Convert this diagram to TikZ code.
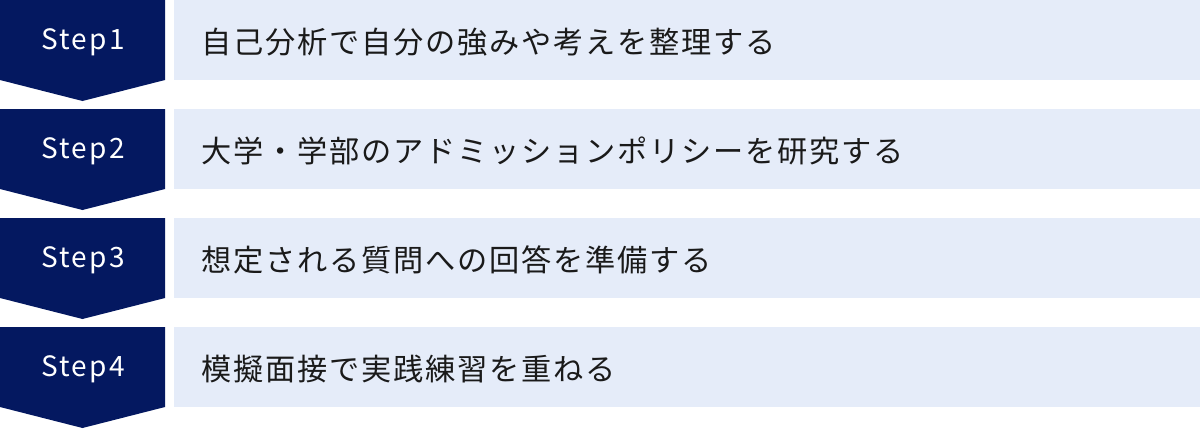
\documentclass[tikz,border=0pt]{standalone}
\usepackage{fontspec}
\setmainfont{Noto Sans CJK JP}
\newfontfamily\stepfont[LetterSpace=8]{Noto Sans CJK JP}
\newfontfamily\textjp[LetterSpace=6]{Noto Sans CJK JP}
\definecolor{navy}{RGB}{4,24,96}
\definecolor{paleblue}{RGB}{229,236,249}
\definecolor{inkgray}{RGB}{26,26,26}
\begin{document}
\begin{tikzpicture}[x=1pt, y=1pt,
  steplabel/.style={text=white, font=\stepfont\fontsize{28}{33}\selectfont, inner sep=0pt},
  stepbar/.style={fill=paleblue, draw=none},
  steptext/.style={anchor=west, text=inkgray, font=\textjp\fontsize{30.2}{36}\selectfont, inner sep=0pt}]
\useasboundingbox (0,0) rectangle (1200,-429);
%chevrons on the left
\fill [navy] (0,0) -- (165,0) -- (165,-80) -- (82.5,-101) -- (0,-80) -- cycle;
\fill [navy] (0,-109) -- (165,-109) -- (165,-189) -- (82.5,-210) -- (0,-189) -- cycle;
\fill [navy] (0,-218) -- (165,-218) -- (165,-298) -- (82.5,-319) -- (0,-298) -- cycle;
\fill [navy] (0,-327) -- (165,-327) -- (165,-407) -- (82.5,-428) -- (0,-407) -- cycle;
%bars on the right
\path [stepbar] (174,0) rectangle (1200,-80);
\path [stepbar] (174,-109) rectangle (1200,-189);
\path [stepbar] (174,-218) rectangle (1200,-298);
\path [stepbar] (174,-327) rectangle (1200,-407);
%step labels
\node [steplabel] (s1) at (83,-42.5) {Step1};
\node [steplabel] (s2) at (83,-151.5) {Step2};
\node [steplabel] (s3) at (83,-260.5) {Step3};
\node [steplabel] (s4) at (83,-369.5) {Step4};
%texts
\node [steptext] (t1) at (201,-42) {自己分析で自分の強みや考えを整理する};
\node [steptext] (t2) at (201,-151) {大学・学部のアドミッションポリシーを研究する};
\node [steptext] (t3) at (201,-260) {想定される質問への回答を準備する};
\node [steptext] (t4) at (201,-369) {模擬面接で実践練習を重ねる};
\end{tikzpicture}
\end{document}
